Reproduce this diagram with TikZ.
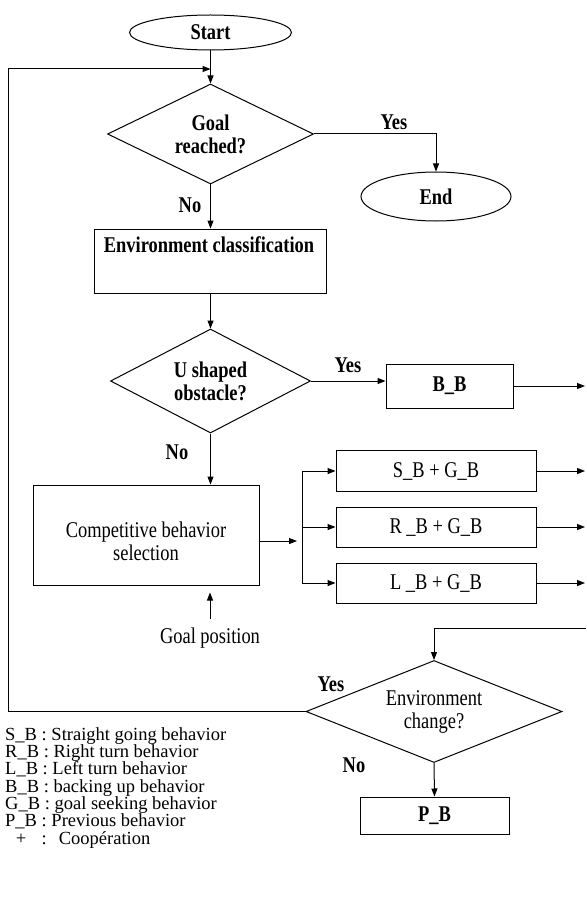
\documentclass[tikz,border=0pt]{standalone}
\usepackage{fontspec}
\setmainfont{Liberation Serif}[FakeStretch=0.82]
\newfontfamily\legfont{Liberation Serif}
\usepackage{calc}
\usetikzlibrary{shapes.geometric,arrows.meta}

\begin{document}
\begin{tikzpicture}[x=1pt,y=-1pt,
  every node/.style={font=\fontsize{22.5}{23}\selectfont, inner sep=0pt},
  bold/.style={font=\fontsize{22.5}{23}\selectfont\bfseries},
  line/.style={line width=1pt, line join=miter},
  flow/.style={line, -{Triangle[length=8pt,width=6pt]}},
  term/.style={draw, line width=1pt, ellipse},
  decision/.style={draw, line width=1pt, diamond, aspect=2.5, align=center},
  stepbox/.style={draw, line width=1pt, rectangle, align=center},
  legend/.style={anchor=base west, font=\legfont\fontsize{18.5}{17}\selectfont},
]
\useasboundingbox (0,0) rectangle (586,904);

% main column
\node[term, bold, minimum width=162pt, minimum height=35pt] (start) at (210.5,32.5) {Start};
\node[decision, bold, minimum width=206pt, minimum height=100pt] (goal) at (210.5,134) {Goal\\reached?};
\node[term, bold, minimum width=150pt, minimum height=49pt] (end) at (436,196.5) {End};
\node[stepbox, minimum width=232pt, minimum height=64pt] (envc) at (210.5,261) {};
\node[bold] (envctext) at (209,245) {Environment classification};
\node[decision, bold, minimum width=200pt, minimum height=104pt] (ushape) at (210.5,381) {U shaped\\obstacle?};
\node[stepbox, bold, minimum width=127pt, minimum height=44pt] (bb) at (449.5,386) {B\_B};
\node[stepbox, minimum width=226pt, minimum height=100pt] (comp) at (146,535) {};
\node[align=center] (comptext) at (146,541) {Competitive behavior\\selection};
\node (goalpos) at (210,638) {Goal position};

% behaviour combinations
\node[stepbox, minimum width=200pt, minimum height=41pt] (sb) at (436,471) {S\_B + G\_B};
\node[stepbox, minimum width=200pt, minimum height=40pt] (rb) at (436,527) {R \_B + G\_B};
\node[stepbox, minimum width=200pt, minimum height=40pt] (lb) at (436,583) {L \_B + G\_B};

% environment check
\node[decision, minimum width=256pt, minimum height=102pt] (envch) at (434,711.5) {Environment\\change?};
\node[stepbox, bold, minimum width=149pt, minimum height=37pt] (pb) at (434.5,815.5) {P\_B};

% branch labels
\node[bold] (yes1) at (394,122) {Yes};
\node[bold] (no1) at (190,205) {No};
\node[bold] (yes2) at (348,365) {Yes};
\node[bold] (no2) at (177,452) {No};
\node[bold] (yes3) at (331,684) {Yes};
\node[bold] (no3) at (354,765) {No};

% free ends
\coordinate (bbout) at (585,386);
\coordinate (split) at (302,541);
\coordinate (ret) at (586,628);
\coordinate (loopc) at (8.5,69);

% connectors
\draw[flow] (start.south) -- (goal.north);
\draw[flow] (goal.east) -| (end.north);
\draw[flow] (goal.south) -- (envc.north -| goal.south);
\draw[flow] (envc.south -| ushape.north) -- (ushape.north);
\draw[flow] (ushape.east) -- (ushape.east -| bb.west);
\draw[flow] (bb.east) -- (bbout);
\draw[flow] (ushape.south) -- (ushape.south |- comp.north);
\draw[flow, shorten <=9pt, shorten >=7pt] (goalpos.north) -- (goalpos.north |- comp.south);
\draw[flow, shorten >=5pt] (split -| comp.east) -- (split);
\draw[line] (sb.west -| split) -- (lb.west -| split);
\draw[flow] (sb.west -| split) -- (sb.west);
\draw[flow] (rb.west -| split) -- (rb.west);
\draw[flow] (lb.west -| split) -- (lb.west);
\draw[flow] (sb.east) -- (sb.east -| bbout);
\draw[flow] (rb.east) -- (rb.east -| bbout);
\draw[flow] (lb.east) -- (lb.east -| bbout);
\draw[flow] (ret) -| (envch.north);
\draw[flow] (envch.west) -| (loopc) -- (loopc -| goal.north);
\draw[flow] (envch.south) -- (pb.north);

% legend
\node[legend] (leg1) at (5,740.2) {S\_B : Straight going behavior};
\node[legend] (leg2) at (5,757.5) {R\_B : Right turn behavior};
\node[legend] (leg3) at (5,774.9) {L\_B : Left turn behavior};
\node[legend] (leg4) at (5,792.2) {B\_B : backing up behavior};
\node[legend] (leg5) at (5,809.5) {G\_B : goal seeking behavior};
\node[legend] (leg6) at (5,826.9) {P\_B : Previous behavior};
\node[legend] (leg7) at (5,844.2) {\makebox[\widthof{S\_B}]{+} :\hspace{12pt}Coopération};
\end{tikzpicture}
\end{document}
